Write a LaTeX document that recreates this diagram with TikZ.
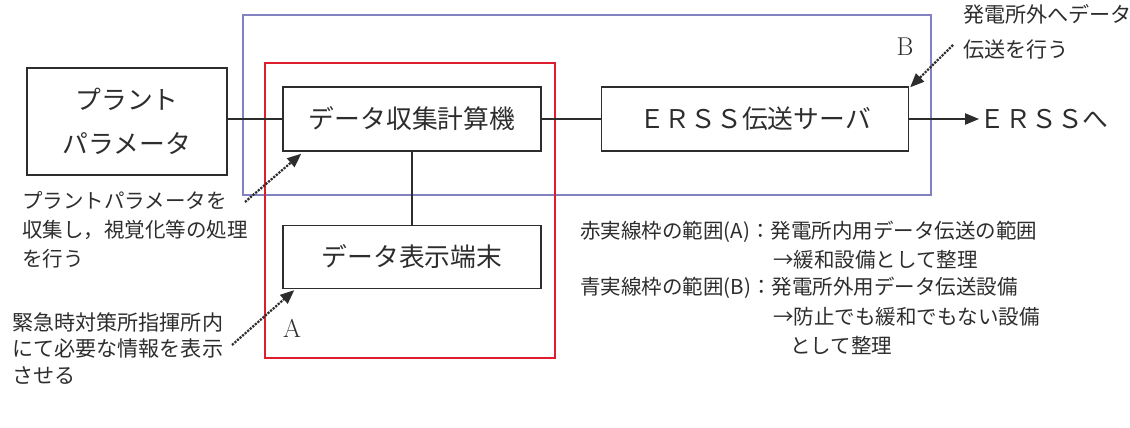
\documentclass[tikz,border=0pt]{standalone}
\usepackage{fontspec}
\usepackage{xcolor}
\usepackage{tikz}
\usetikzlibrary{positioning, arrows.meta}
\newfontfamily\jpfont{Noto Sans CJK JP}
\definecolor{frameblue}{RGB}{130,130,195}
\definecolor{framered}{RGB}{222,30,45}
\definecolor{ink}{RGB}{45,45,45}

\begin{document}
\begin{tikzpicture}[
  x=0.03cm, y=-0.03cm,
  node distance=2.19cm and 1.77cm,
  box/.style={draw=ink, line width=1.2pt, inner sep=0pt, text=ink,
    font=\jpfont\fontsize{22}{30}\selectfont, align=center},
  note/.style={inner sep=0pt, anchor=north west, align=left, text=ink,
    font=\jpfont\fontsize{18}{25}\selectfont},
  legend/.style={inner sep=0pt, anchor=west, text=ink,
    font=\jpfont\fontsize{17.5}{24}\selectfont},
  letter/.style={inner sep=0pt, text=ink, font=\fontsize{22}{26}\selectfont},
  link/.style={draw=ink, line width=1.2pt},
  arr/.style={-{Triangle[length=0.42cm, width=0.34cm]}, draw=ink, line width=1.2pt},
  dotarr/.style={-{Triangle[length=0.42cm, width=0.34cm]}, draw=ink, densely dotted, line width=1.9pt},
]
  \useasboundingbox (0,0) rectangle (1130,428);

  % ranges B (blue) and A (red)
  \draw[frameblue, line width=0.9pt] (243,15) rectangle (931,195);
  \draw[framered, line width=0.9pt] (265,63) rectangle (555,358);
  \node[letter] (labB) at (905,47) {B};
  \node[letter] (labA) at (292,328) {A};

  % equipment
  \node[box, minimum width=6cm, minimum height=3.21cm,
    font=\jpfont\fontsize{22}{38}\selectfont] (plant) at (127,121.5) {プラント\\パラメータ};
  \node[box, minimum width=7.74cm, minimum height=1.92cm] (data) at (412,119) {データ収集計算機};
  \node[box, minimum width=9.21cm, minimum height=1.92cm, right=of data] (erss) {ＥＲＳＳ伝送サーバ};
  \node[box, minimum width=7.74cm, minimum height=1.89cm, below=of data] (disp) {データ表示端末};
  \node[box, draw=none, anchor=west] (erssout) at (979,119) {ＥＲＳＳへ};

  \draw[link] (plant.east |- data.west) -- (data.west);
  \draw[link] (data) -- (erss);
  \draw[link] (data) -- (disp);
  \draw[arr] (erss) -- (erssout);

  % explanations
  \node[note, font=\jpfont\fontsize{17.5}{25}\selectfont] (collectnote) at (22,191)
    {プラントパラメータを\\収集し，視覚化等の処理\\を行う};
  \node[note, font=\jpfont\fontsize{18}{23}\selectfont] (shownote) at (12,312)
    {緊急時対策所指揮所内\\にて必要な情報を表示\\させる};
  \node[note, font=\jpfont\fontsize{18}{30}\selectfont] (sendnote) at (963,4)
    {発電所外へデータ\\伝送を行う};

  \coordinate (c1) at (245,202);
  \coordinate (c2) at (232,345);
  \coordinate (c3) at (953,45);
  \draw[dotarr] (c1) -- ([xshift=0.57cm, yshift=-0.06cm]data.south west);
  \draw[dotarr] (c2) -- ([xshift=0.36cm, yshift=-0.03cm]disp.south west);
  \draw[dotarr] (c3) -- ([xshift=0.03cm, yshift=-0.03cm]erss.north east);

  % legend
  \node[legend] (rangeA) at (580,232) {赤実線枠の範囲(A)：発電所内用データ伝送の範囲};
  \node[legend] (rangeAnote) at (773,260) {→緩和設備として整理};
  \node[legend] (rangeB) at (580,288) {青実線枠の範囲(B)：発電所外用データ伝送設備};
  \node[legend] (rangeBnote) at (773,317) {→防止でも緩和でもない設備};
  \node[legend] (rangeBnote2) at (790,345) {として整理};
\end{tikzpicture}
\end{document}
